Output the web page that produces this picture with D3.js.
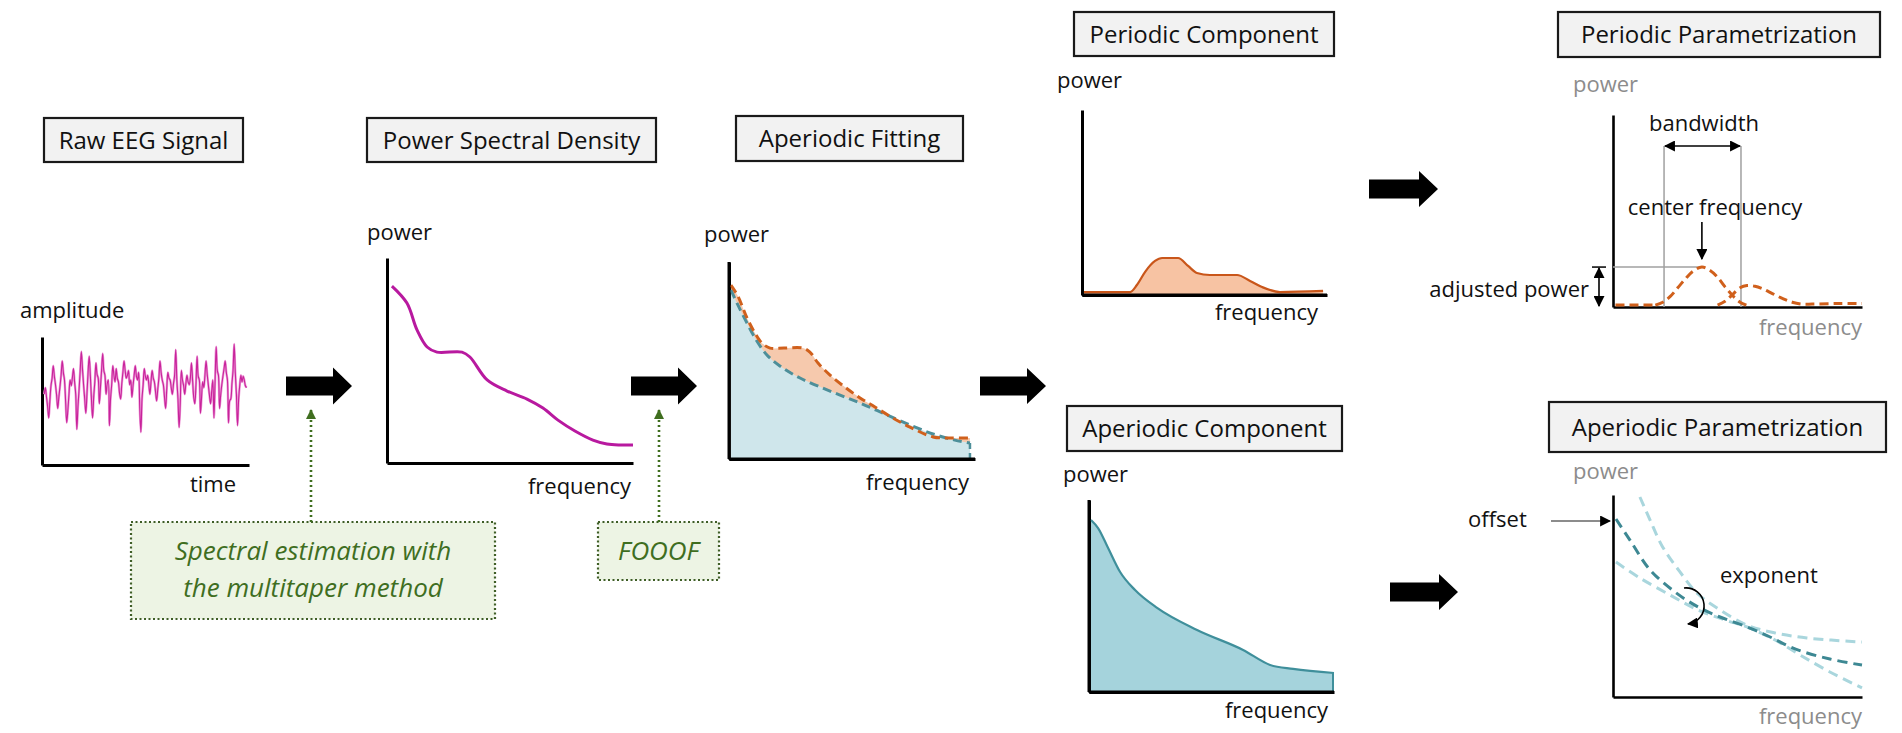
<!DOCTYPE html>
<html><head><meta charset="utf-8">
<script src="https://cdn.jsdelivr.net/npm/d3@7"></script>
<style>
body{margin:0;background:#fff;}
svg{display:block;}
text{font-family:"Open Sans","Noto Sans",sans-serif;}
</style>
</head><body>
<svg id="c" width="1902" height="733"></svg>
<script>
// ---------------- DATA ----------------
const eegValues = [
 -5, 2, -8, -18, -30, -12, 4, 12, 25, 14, 5, -6, -20, -8, 3, 15, 30, 18, 10, -12, -35, -22, -5, 10, 4, 12, 22, 8, -5, -42,
 -18, 0, 20, 40, 22, 5, -10, -25, -5, 18, 35, 15, -10, -30, -8, 8, 28, 16, 12, -15, 2, 20, 38, 20, 15, -5, 6, 10, -38, -10,
 5, 25, 15, 8, 22, 12, 8, -4, -10, 6, 18, 30, 20, 12, 15, 20, 5, 10, -8, 4, 15, 25, 14, 10, 18, -20, -45, -10, 5, 22,
 14, 10, 15, 6, -5, 8, 20, 12, 8, -2, -12, 0, 12, 30, 18, 10, 5, -8, -20, 0, 18, 12, 10, 2, -5, 6, 15, 42, 10, -10,
 -40, -15, 20, 10, 4, -5, 6, 15, 8, 5, 12, 28, 10, -8, -15, 5, 35, 14, 10, -25, -8, 8, 2, 15, 30, 16, 5, -6, -15, -2,
 10, -30, 8, 45, 20, 15, -20, -6, 5, 14, 22, 30, 18, 10, -35, -12, -10, 6, 20, 48, 18, -5, -38, -10, 5, 15, 8, 14, 10, 4, 2
];
const psdFreq  = [2, 8.1, 12.2, 16.3, 20.3, 30.5, 33.7, 40.7, 48.8, 56.9, 63.4, 69.5, 76.4, 83.7, 89.4, 94.7, 100];
const psdPower = [86.3, 78, 64.9, 56.6, 54.1, 54.1, 51.7, 40.5, 35.1, 31.2, 26.8, 20.9, 15.6, 11.2, 9.3, 8.8, 8.8];

const fitTotalFreq  = [0, 2.9, 6.7, 10, 12.9, 16.3, 22.1, 30, 32.9, 36.3, 41.3, 47.5, 53.8, 60, 67.5, 74.6, 84.2, 91.3, 99.6];
const fitTotalPower = [88.3, 82.7, 71.6, 64, 58.9, 56.3, 56.3, 56.3, 54.3, 48.7, 42.6, 36.5, 31, 26.4, 20.8, 16.2, 11.2, 10.7, 10.7];
const fitAperFreq   = [0, 2.9, 6.7, 10.8, 15, 20.4, 28.8, 41.3, 53.8, 64.2, 74.6, 84.2, 93.3, 99.6];
const fitAperPower  = [85.8, 78.2, 69, 59.9, 52.8, 47.2, 41.1, 34.5, 28.4, 22.8, 17.3, 12.7, 9.6, 8.1];

const periodicFreq  = [0.8, 19.6, 22.4, 25.7, 29.8, 32.7, 39.2, 43.3, 46.9, 52.2, 63.3, 68.6, 73.5, 80.8, 98.4];
const periodicPower = [1.6, 1.6, 5.4, 12.4, 18.4, 20, 20, 15.7, 11.9, 10.8, 10.8, 7.6, 4.3, 1.6, 2.2];

const aperiodicFreq  = [0.8, 3.7, 7.8, 12.7, 18.8, 27.8, 44.1, 62.9, 73.9, 83.3, 100];
const aperiodicPower = [89.6, 85.4, 75, 62.5, 53.1, 43.8, 32.3, 21.9, 14.1, 12, 9.9];

const peakBaseFreq = [1, 17];
const peakBasePower = [1, 1];
const peak1Freq  = [17, 20, 23, 26, 29, 32, 35.7, 39, 42, 45, 48, 51, 54];
const peak1Power = [1, 2.5, 5.5, 10, 14.5, 18.5, 20.8, 19, 15.5, 10.5, 6, 2.5, 0.8];
const peak2Freq  = [42, 45, 48, 51, 53.8, 57, 60, 64, 68, 72, 76, 80, 90, 100];
const peak2Power = [1, 3, 6.5, 10, 11.2, 10.8, 9.5, 7, 4.5, 2.5, 1.5, 1.5, 1.8, 1.8];

const expMidFreq   = [1.2, 6.8, 14.9, 24.9, 34.1, 43, 53.8, 63.1, 73.1, 87.1, 100];
const expMidPower  = [88.1, 77.7, 62.9, 52, 44.6, 39.6, 34.7, 29.7, 23.8, 18.8, 15.8];
const expHighFreq  = [10.8, 14.9, 19.7, 26.9, 34.1, 43, 53.8, 65.1, 77.9, 100];
const expHighPower = [99, 87.6, 74.8, 61.9, 51, 43.1, 35.6, 31.7, 29.2, 27.2];
const expLowFreq   = [1.2, 10.8, 22.9, 34.1, 45, 53.8, 65.1, 75.1, 87.1, 100];
const expLowPower  = [66.8, 58.9, 50.5, 43.1, 38.1, 34.7, 28.2, 20.8, 12.4, 4.5];

const titles = ["Raw EEG Signal", "Power Spectral Density", "Aperiodic Fitting", "Periodic Component",
                "Periodic Parametrization", "Aperiodic Component", "Aperiodic Parametrization"];
const noteLines = ["Spectral estimation with", "the multitaper method"];
const noteFooof = "FOOOF";

// ---------------- DRAW ----------------
const svg = d3.select("#c");
const defs = svg.append("defs");
function mk(id, color, size){
  defs.append("marker").attr("id", id).attr("viewBox", "0 0 10 10")
    .attr("refX", 9).attr("refY", 5).attr("markerWidth", size).attr("markerHeight", size)
    .attr("markerUnits","userSpaceOnUse").attr("orient", "auto-start-reverse")
    .append("path").attr("d", "M0,0 L10,5 L0,10 z").attr("fill", color);
}
mk("ah", "#000", 11);
mk("ag", "#3f6e1f", 10);

const boxes = [
  [44, 118, 199, 44], [367, 118, 289, 44], [736, 116, 227, 45], [1074, 12, 260, 44],
  [1558, 12, 322, 45], [1067, 406, 275, 45], [1549, 402, 337, 50]
];
titles.forEach((t, i) => {
  const [x, y, w, h] = boxes[i];
  svg.append("rect").attr("x", x).attr("y", y).attr("width", w).attr("height", h)
    .attr("fill", "#f2f2f2").attr("stroke", "#1a1a1a").attr("stroke-width", 2.2);
  svg.append("text").attr("x", x + w / 2).attr("y", y + h / 2 + 8.5).attr("text-anchor", "middle")
    .attr("font-size", 24).attr("fill", "#111").text(t);
});

function label(x, y, t, opts = {}) {
  return svg.append("text").attr("x", x).attr("y", y).attr("font-size", opts.size || 22)
    .attr("fill", opts.fill || "#111").attr("text-anchor", opts.anchor || "start").text(t);
}

function axes(x0, x1, yTop, yBase, xd, yd, sw) {
  const ax = d3.scaleLinear().domain(xd).range([x0, x1]);
  const ay = d3.scaleLinear().domain(yd).range([yBase, yTop]);
  svg.append("g").attr("transform", `translate(0,${yBase})`)
    .call(d3.axisBottom(ax).tickValues([]).tickSizeOuter(0))
    .select(".domain").attr("stroke", "#000").attr("stroke-width", sw || 3);
  svg.append("g").attr("transform", `translate(${x0},0)`)
    .call(d3.axisLeft(ay).tickValues([]).tickSizeOuter(0))
    .select(".domain").attr("stroke", "#000").attr("stroke-width", sw || 3);
  return { x: ax, y: ay };
}

// Panel 1: raw EEG
{
  const s = axes(42, 249, 337, 465, [-2, eegValues.length + 1.2], [-79.5, 55.3]);
  const line = d3.line().x((d, i) => s.x(i)).y(d => s.y(d)).curve(d3.curveCatmullRom);
  svg.append("path").datum(eegValues).attr("d", line).attr("fill", "none")
    .attr("stroke", "#ee9bd8").attr("stroke-width", 2.4);
  svg.append("path").datum(eegValues).attr("d", line).attr("fill", "none")
    .attr("stroke", "#c8239b").attr("stroke-width", 1.1);
  label(20, 318, "amplitude");
  label(236, 492, "time", { anchor: "end" });
}

// Panel 2: PSD
{
  const s = axes(387, 633, 258, 463, [0, 100], [0, 100]);
  const line = d3.line().x((d, i) => s.x(psdFreq[i])).y(d => s.y(d)).curve(d3.curveCatmullRom);
  svg.append("path").datum(psdPower).attr("d", line).attr("fill", "none")
    .attr("stroke", "#b8199f").attr("stroke-width", 3);
  label(367, 240, "power");
  label(631, 494, "frequency", { anchor: "end" });
}

// Panel 3: Aperiodic fitting
{
  const s = axes(729, 975, 262, 459, [-0.8, 101.7], [0, 100]);
  const tot = fitTotalPower.map((p, i) => [fitTotalFreq[i], p]);
  const ap = fitAperPower.map((p, i) => [fitAperFreq[i], p]);
  const area = d3.area().x(d => s.x(d[0])).y0(s.y(0)).y1(d => s.y(d[1])).curve(d3.curveCatmullRom);
  const line = d3.line().x(d => s.x(d[0])).y(d => s.y(d[1])).curve(d3.curveCatmullRom);
  svg.append("path").datum(tot).attr("d", area).attr("fill", "#f6c9ad");
  svg.append("path").datum(ap).attr("d", area).attr("fill", "#cfe6eb");
  svg.append("path").datum(ap).attr("d", line).attr("fill", "none")
    .attr("stroke", "#4d8f9a").attr("stroke-width", 3).attr("stroke-dasharray", "9,5");
  const last = ap[ap.length - 1];
  svg.append("line").attr("x1", s.x(last[0])).attr("x2", s.x(last[0]))
    .attr("y1", s.y(last[1])).attr("y2", s.y(0))
    .attr("stroke", "#4d8f9a").attr("stroke-width", 2.5).attr("stroke-dasharray", "6,4");
  svg.append("path").datum(tot).attr("d", line).attr("fill", "none")
    .attr("stroke", "#d0601c").attr("stroke-width", 3).attr("stroke-dasharray", "9,5");
  svg.append("line").attr("x1", 729).attr("x2", 729).attr("y1", 262).attr("y2", 459).attr("stroke", "#000").attr("stroke-width", 3);
  svg.append("line").attr("x1", 729).attr("x2", 975).attr("y1", 459).attr("y2", 459).attr("stroke", "#000").attr("stroke-width", 3);
  label(704, 242, "power");
  label(969, 490, "frequency", { anchor: "end" });
}

// Panel 4: periodic component
{
  const s = axes(1082, 1327, 110, 295, [0, 100], [0, 100]);
  const d = periodicPower.map((p, i) => [periodicFreq[i], p]);
  const area = d3.area().x(q => s.x(q[0])).y0(s.y(0)).y1(q => s.y(q[1])).curve(d3.curveMonotoneX);
  const line = d3.line().x(q => s.x(q[0])).y(q => s.y(q[1])).curve(d3.curveMonotoneX);
  svg.append("path").datum(d).attr("d", area).attr("fill", "#f7c3a3");
  svg.append("path").datum(d).attr("d", line).attr("fill", "none").attr("stroke", "#c9561a").attr("stroke-width", 2.2);
  svg.append("line").attr("x1", 1082).attr("x2", 1327).attr("y1", 295).attr("y2", 295).attr("stroke", "#000").attr("stroke-width", 3);
  label(1057, 88, "power");
  label(1318, 320, "frequency", { anchor: "end" });
}

// Panel 5: aperiodic component
{
  const s = axes(1089, 1334, 500, 692, [0, 100], [0, 100]);
  const d = aperiodicPower.map((p, i) => [aperiodicFreq[i], p]);
  const area = d3.area().x(q => s.x(q[0])).y0(s.y(0)).y1(q => s.y(q[1])).curve(d3.curveMonotoneX);
  const line = d3.line().x(q => s.x(q[0])).y(q => s.y(q[1])).curve(d3.curveMonotoneX);
  svg.append("path").datum(d).attr("d", area).attr("fill", "#a5d3dc");
  svg.append("path").datum(d).attr("d", line).attr("fill", "none").attr("stroke", "#3f8f9b").attr("stroke-width", 2.2);
  const last = d[d.length - 1];
  svg.append("line").attr("x1", s.x(last[0]) - 1).attr("x2", s.x(last[0]) - 1).attr("y1", s.y(last[1])).attr("y2", s.y(0))
    .attr("stroke", "#3f8f9b").attr("stroke-width", 2);
  svg.append("line").attr("x1", 1089).attr("x2", 1334).attr("y1", 692).attr("y2", 692).attr("stroke", "#000").attr("stroke-width", 3);
  svg.append("line").attr("x1", 1089).attr("x2", 1089).attr("y1", 500).attr("y2", 692).attr("stroke", "#000").attr("stroke-width", 3);
  label(1063, 482, "power");
  label(1328, 718, "frequency", { anchor: "end" });
}

// Panel 6: periodic parametrization
{
  const s = axes(1613, 1862, 115, 307, [0, 100], [0, 100], 2.6);
  const line = d3.line().x(q => s.x(q[0])).y(q => s.y(q[1])).curve(d3.curveCatmullRom);
  const g = "#a0a0a0";
  svg.append("line").attr("x1", s.x(20.5)).attr("x2", s.x(20.5)).attr("y1", 146).attr("y2", 307).attr("stroke", g).attr("stroke-width", 1.5);
  svg.append("line").attr("x1", s.x(51.4)).attr("x2", s.x(51.4)).attr("y1", 146).attr("y2", 307).attr("stroke", g).attr("stroke-width", 1.5);
  svg.append("line").attr("x1", s.x(0)).attr("x2", s.x(35.7)).attr("y1", s.y(20.8)).attr("y2", s.y(20.8)).attr("stroke", g).attr("stroke-width", 1.5);
  [[peakBaseFreq, peakBasePower], [peak1Freq, peak1Power], [peak2Freq, peak2Power]].forEach(([f, p]) => {
    svg.append("path").datum(p.map((v, i) => [f[i], v])).attr("d", line).attr("fill", "none")
      .attr("stroke", "#d0601c").attr("stroke-width", 3).attr("stroke-dasharray", "9,5");
  });
  svg.append("line").attr("x1", s.x(20.5) + 1).attr("x2", s.x(51.4) - 1).attr("y1", 146).attr("y2", 146)
    .attr("stroke", "#000").attr("stroke-width", 1.6).attr("marker-start", "url(#ah)").attr("marker-end", "url(#ah)");
  svg.append("line").attr("x1", s.x(35.7)).attr("x2", s.x(35.7)).attr("y1", 222).attr("y2", 259)
    .attr("stroke", "#000").attr("stroke-width", 1.6).attr("marker-end", "url(#ah)");
  svg.append("line").attr("x1", 1599).attr("x2", 1599).attr("y1", s.y(20.8) + 1).attr("y2", 306)
    .attr("stroke", "#000").attr("stroke-width", 1.6).attr("marker-start", "url(#ah)").attr("marker-end", "url(#ah)");
  svg.append("line").attr("x1", 1592).attr("x2", 1606).attr("y1", s.y(20.8)).attr("y2", s.y(20.8)).attr("stroke", "#000").attr("stroke-width", 1.5);
  label(1573, 92, "power", { fill: "#8c8c8c" });
  label(1862, 335, "frequency", { anchor: "end", fill: "#8c8c8c" });
  label(1704, 131, "bandwidth", { anchor: "middle" });
  label(1715, 215, "center frequency", { anchor: "middle" });
  label(1589, 297, "adjusted power", { anchor: "end" });
}

// Panel 7: aperiodic parametrization
{
  const s = axes(1613, 1862, 495, 697, [0, 100], [0, 100], 2.6);
  const line = d3.line().x(q => s.x(q[0])).y(q => s.y(q[1])).curve(d3.curveCatmullRom);
  [[expHighFreq, expHighPower, "#a9d6dd"], [expLowFreq, expLowPower, "#a9d6dd"], [expMidFreq, expMidPower, "#3d8893"]].forEach(([f, p, c]) => {
    svg.append("path").datum(p.map((v, i) => [f[i], v])).attr("d", line).attr("fill", "none")
      .attr("stroke", c).attr("stroke-width", 3).attr("stroke-dasharray", "10,6");
  });
  svg.append("line").attr("x1", 1551).attr("x2", 1610).attr("y1", 521).attr("y2", 521)
    .attr("stroke", "#666").attr("stroke-width", 1.4).attr("marker-end", "url(#ah)");
  svg.append("path").attr("d", "M1684,588 A18,18 0 0 1 1688,624").attr("fill", "none")
    .attr("stroke", "#000").attr("stroke-width", 1.6).attr("marker-end", "url(#ah)");
  label(1573, 479, "power", { fill: "#8c8c8c" });
  label(1862, 724, "frequency", { anchor: "end", fill: "#8c8c8c" });
  label(1468, 527, "offset");
  label(1720, 583, "exponent");
}

// Block arrows
function blockArrow(x0, yc, len, shaftH, headH, headLen) {
  const p = d3.path();
  const xh = x0 + len - headLen;
  p.moveTo(x0, yc - shaftH / 2); p.lineTo(xh, yc - shaftH / 2); p.lineTo(xh, yc - headH / 2);
  p.lineTo(x0 + len, yc); p.lineTo(xh, yc + headH / 2); p.lineTo(xh, yc + shaftH / 2);
  p.lineTo(x0, yc + shaftH / 2); p.closePath();
  svg.append("path").attr("d", p.toString()).attr("fill", "#000");
}
blockArrow(286, 386, 66, 19, 37, 19);
blockArrow(631, 386, 66, 19, 37, 19);
blockArrow(980, 386, 66, 19, 36, 19);
blockArrow(1369, 189, 69, 19, 36, 19);
blockArrow(1390, 592, 68, 19, 36, 19);

// Method notes (green dotted boxes)
function note(x, y, w, h, lines, cx) {
  svg.append("rect").attr("x", x).attr("y", y).attr("width", w).attr("height", h)
    .attr("fill", "#edf4e4").attr("stroke", "#3f5e26").attr("stroke-width", 2.2).attr("stroke-dasharray", "2,2.5");
  lines.forEach((t, i) => {
    svg.append("text").attr("x", x + w / 2).attr("y", y + 38 + i * 37).attr("text-anchor", "middle")
      .attr("font-size", 26).attr("font-style", "italic").attr("fill", "#3f6e1f").text(t);
  });
  svg.append("line").attr("x1", cx).attr("x2", cx).attr("y1", y).attr("y2", 410)
    .attr("stroke", "#3f6e1f").attr("stroke-width", 2.6).attr("stroke-dasharray", "2,3").attr("marker-end", "url(#ag)");
}
note(131, 522, 364, 97, noteLines, 311);
note(598, 522, 121, 58, [noteFooof], 659);
</script>
</body></html>
